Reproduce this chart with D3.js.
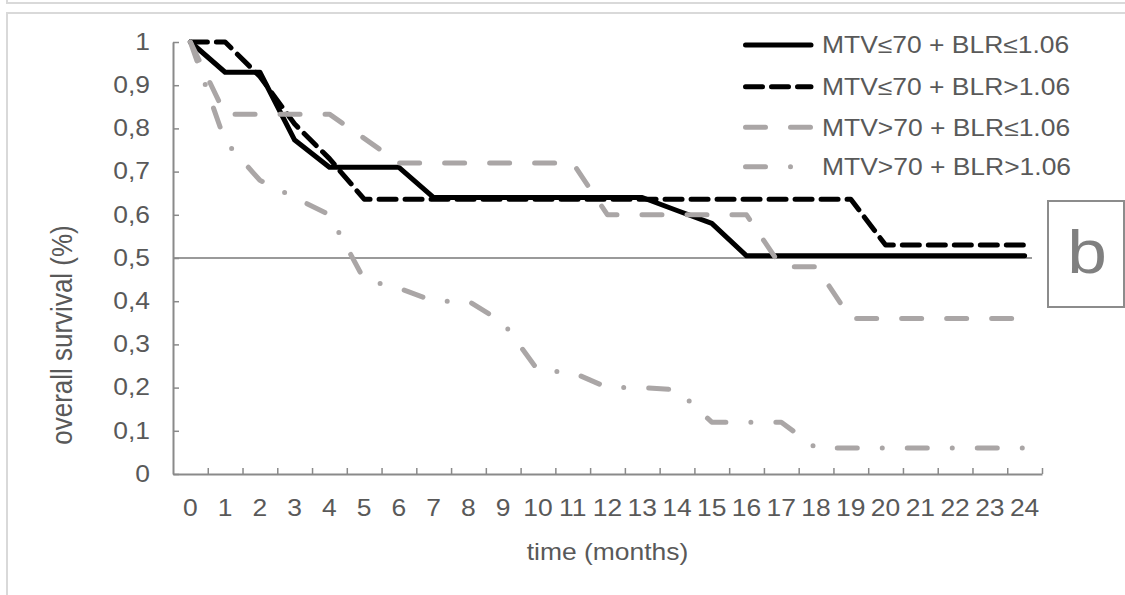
<!DOCTYPE html>
<html>
<head>
<meta charset="utf-8">
<script src="https://cdn.jsdelivr.net/npm/d3@7"></script>
<style>
  html, body { margin: 0; padding: 0; background: #fff; }
  svg { display: block; font-family: "Liberation Sans", Arial, sans-serif; }
</style>
</head>
<body>
<div id="survival-chart"></div>
<script>

// months on the category axis
const months = [0, 1, 2, 3, 4, 5, 6, 7, 8, 9, 10, 11, 12, 13, 14, 15, 16, 17, 18, 19, 20, 21, 22, 23, 24];

const yTickValues = [0, 0.1, 0.2, 0.3, 0.4, 0.5, 0.6, 0.7, 0.8, 0.9, 1];
const yTickLabels = ["0", "0,1", "0,2", "0,3", "0,4", "0,5", "0,6", "0,7", "0,8", "0,9", "1"];

const seriesNames = ["MTV≤70 + BLR≤1.06", "MTV≤70 + BLR>1.06", "MTV>70 + BLR≤1.06", "MTV>70 + BLR>1.06"];

// survival, one value per month
const lowMtvLowBlr  = [1, 0.93, 0.93, 0.773, 0.71, 0.71, 0.71, 0.64, 0.64, 0.64, 0.64, 0.64, 0.64, 0.64, 0.61, 0.58, 0.505, 0.505, 0.505, 0.505, 0.505, 0.505, 0.505, 0.505, 0.505];
const lowMtvHighBlr = [1, 1, 0.92, 0.81, 0.73, 0.636, 0.636, 0.636, 0.636, 0.636, 0.636, 0.636, 0.636, 0.636, 0.636, 0.636, 0.636, 0.636, 0.636, 0.636, 0.53, 0.53, 0.53, 0.53, 0.53];
const highMtvLowBlr = [1, 0.833, 0.833, 0.833, 0.833, 0.777, 0.72, 0.72, 0.72, 0.72, 0.72, 0.72, 0.6, 0.6, 0.6, 0.6, 0.6, 0.48, 0.48, 0.36, 0.36, 0.36, 0.36, 0.36, 0.36];
const highMtvHighBlr = [1, 0.77, 0.68, 0.64, 0.6, 0.45, 0.43, 0.4, 0.4, 0.35, 0.24, 0.235, 0.2, 0.2, 0.195, 0.12, 0.12, 0.12, 0.06, 0.06, 0.06, 0.06, 0.06, 0.06, 0.06];

// median line
const medianLevel = 0.5;

class SurvivalChart {

  constructor() {
    this.width = 1125;
    this.height = 595;
    this.sx = 1.15; // the source picture is stretched sideways, so the text is too

    this.svg = d3.select("#survival-chart").append("svg")
      .attr("width", this.width)
      .attr("height", this.height);

    this.left = 173;
    this.right = 1042;
    this.top = 42;
    this.bottom = 474;

    this.xScale = d3.scaleBand().domain(months).range([this.left, this.right]).padding(0);
    this.xEdges = d3.scaleLinear().domain([0, months.length]).range([this.left, this.right]);
    this.yScale = d3.scaleLinear().domain([0, 1]).range([this.bottom, this.top]);

    this.styles = [
      { color: "#000000", dash: null },
      { color: "#000000", dash: "17,9" },
      { color: "#aaa6a6", dash: "20,25" },
      { color: "#aaa6a6", dash: "20,25,0,25" }
    ];
  }

  drawFrame() {
    let frame = this.svg.append("g").attr("fill", "none").attr("stroke", "#d9d9d9").attr("stroke-width", 2);
    frame.append("path").attr("d", `M7,0V3H${this.width}`);
    frame.append("path").attr("d", `M7,${this.height}V13H${this.width}`);
  }

  drawAxes() {
    let that = this;
    let textColor = "#595959";
    let axisColor = "#8a8a8a";

    // y axis, ticks pointing inside
    let yAxis = d3.axisLeft(this.yScale)
      .tickValues(yTickValues)
      .tickFormat((d, i) => yTickLabels[i])
      .tickSizeInner(-6)
      .tickSizeOuter(0)
      .tickPadding(20);

    let gy = this.svg.append("g")
      .attr("transform", `translate(${this.left},0)`)
      .call(yAxis);
    gy.select(".domain").attr("stroke", axisColor).attr("stroke-width", 2);
    gy.selectAll(".tick line").attr("stroke", axisColor).attr("stroke-width", 1.5);
    gy.selectAll("text")
      .attr("font-size", 23)
      .attr("fill", textColor)
      .attr("font-family", null)
      .attr("transform", `scale(${that.sx},1)`);

    // x axis line and ticks sit on the band edges
    let xAxis = d3.axisBottom(this.xEdges)
      .tickValues(d3.range(1, months.length + 1))
      .tickFormat("")
      .tickSizeInner(-6)
      .tickSizeOuter(0);

    let gx = this.svg.append("g")
      .attr("transform", `translate(0,${this.bottom})`)
      .call(xAxis);
    gx.select(".domain").attr("stroke", axisColor).attr("stroke-width", 2);
    gx.selectAll(".tick line").attr("stroke", axisColor).attr("stroke-width", 1.5);

    // month labels centred in each band
    let labels = this.svg.append("g")
      .attr("transform", `translate(0,${this.bottom})`)
      .call(d3.axisBottom(this.xScale).tickSize(0).tickPadding(26));
    labels.select(".domain").remove();
    labels.selectAll("text")
      .attr("font-size", 23)
      .attr("fill", textColor)
      .attr("font-family", null)
      .attr("transform", `scale(${that.sx},1)`);

    this.svg.append("text")
      .attr("transform", `translate(${(this.left + this.right) / 2},560) scale(${this.sx},1)`)
      .attr("text-anchor", "middle")
      .attr("font-size", 23)
      .attr("fill", textColor)
      .text("time (months)");

    this.svg.append("text")
      .attr("transform", `translate(72,335) scale(${this.sx},1) rotate(-90)`)
      .attr("text-anchor", "middle")
      .attr("font-size", 26)
      .attr("fill", textColor)
      .text("overall survival (%)");
  }

  drawLines() {
    let that = this;
    let half = this.xScale.bandwidth() / 2;

    // median reference
    this.svg.append("line")
      .attr("x1", this.left)
      .attr("x2", this.right - 10)
      .attr("y1", this.yScale(medianLevel))
      .attr("y2", this.yScale(medianLevel))
      .attr("stroke", "#9a9a9a")
      .attr("stroke-width", 2);

    let line = d3.line()
      .x(d => that.xScale(d.m) + half)
      .y(d => that.yScale(d.v));

    let allSeries = [lowMtvLowBlr, lowMtvHighBlr, highMtvLowBlr, highMtvHighBlr];

    allSeries.forEach(function (values, i) {
      let points = months.map((m, j) => ({ m: m, v: values[j] }));
      that.svg.append("path")
        .datum(points)
        .attr("d", line)
        .attr("fill", "none")
        .attr("stroke", that.styles[i].color)
        .attr("stroke-width", 5)
        .attr("stroke-linejoin", "round")
        .attr("stroke-linecap", "round")
        .attr("stroke-dasharray", that.styles[i].dash);
    });
  }

  drawLegend() {
    let that = this;
    let rows = [45, 86.7, 127.3, 166.7];

    let legend = this.svg.append("g").attr("id", "legend");
    seriesNames.forEach(function (name, i) {
      legend.append("line")
        .attr("x1", 745.5)
        .attr("x2", 811)
        .attr("y1", rows[i])
        .attr("y2", rows[i])
        .attr("stroke", that.styles[i].color)
        .attr("stroke-width", 5)
        .attr("stroke-linecap", "round")
        .attr("stroke-dasharray", that.styles[i].dash);

      legend.append("text")
        .attr("transform", `translate(822,${rows[i]}) scale(${that.sx},1)`)
        .attr("dy", "0.36em")
        .attr("font-size", 23)
        .attr("fill", "#595959")
        .text(name);
    });
  }

  drawPanelTag() {
    this.svg.append("rect")
      .attr("x", 1048)
      .attr("y", 201)
      .attr("width", 76)
      .attr("height", 106)
      .attr("fill", "#fff")
      .attr("stroke", "#8c8c8c")
      .attr("stroke-width", 2);

    this.svg.append("text")
      .attr("transform", `translate(1087,273) scale(${this.sx},1)`)
      .attr("text-anchor", "middle")
      .attr("font-size", 62)
      .attr("fill", "#808080")
      .text("b");
  }
}

let chart = new SurvivalChart();
chart.drawFrame();
chart.drawLines();
chart.drawAxes();
chart.drawLegend();
chart.drawPanelTag();

</script>
</body>
</html>
